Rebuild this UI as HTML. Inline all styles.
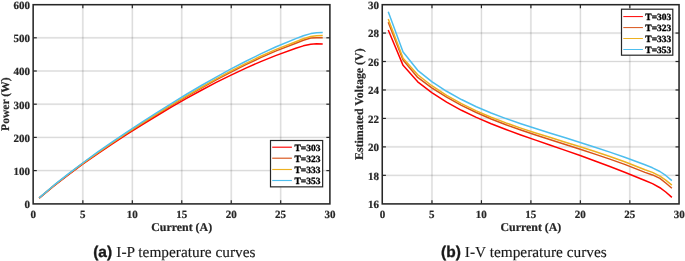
<!DOCTYPE html>
<html lang="en"><head><meta charset="utf-8"><title>Temperature curves</title>
<style>html,body{margin:0;padding:0;background:#fff;overflow:hidden}svg{will-change:transform}text{text-rendering:geometricPrecision}.b{stroke:#262626;stroke-width:.2px;stroke-linejoin:round}.c{stroke:#1a1a1a;stroke-width:.35px;stroke-linejoin:round}.s{stroke:#1a1a1a;stroke-width:.15px}.k{stroke:#000;stroke-width:.32px;stroke-linejoin:round}</style></head>
<body>
<svg width="685" height="261" viewBox="0 0 685 261" style="display:block">
<rect width="685" height="261" fill="#fff"/>
<line x1="82.86" y1="4.6" x2="82.86" y2="203.8" stroke="#000" stroke-opacity="0.05" stroke-width="2.2"/>
<line x1="82.86" y1="4.6" x2="82.86" y2="203.8" stroke="#000" stroke-opacity="0.12" stroke-width="0.9"/>
<line x1="132.32" y1="4.6" x2="132.32" y2="203.8" stroke="#000" stroke-opacity="0.05" stroke-width="2.2"/>
<line x1="132.32" y1="4.6" x2="132.32" y2="203.8" stroke="#000" stroke-opacity="0.12" stroke-width="0.9"/>
<line x1="181.77" y1="4.6" x2="181.77" y2="203.8" stroke="#000" stroke-opacity="0.05" stroke-width="2.2"/>
<line x1="181.77" y1="4.6" x2="181.77" y2="203.8" stroke="#000" stroke-opacity="0.12" stroke-width="0.9"/>
<line x1="231.23" y1="4.6" x2="231.23" y2="203.8" stroke="#000" stroke-opacity="0.05" stroke-width="2.2"/>
<line x1="231.23" y1="4.6" x2="231.23" y2="203.8" stroke="#000" stroke-opacity="0.12" stroke-width="0.9"/>
<line x1="280.69" y1="4.6" x2="280.69" y2="203.8" stroke="#000" stroke-opacity="0.05" stroke-width="2.2"/>
<line x1="280.69" y1="4.6" x2="280.69" y2="203.8" stroke="#000" stroke-opacity="0.12" stroke-width="0.9"/>
<line x1="33.2" y1="170.60" x2="329.95" y2="170.60" stroke="#000" stroke-opacity="0.05" stroke-width="2.2"/>
<line x1="33.2" y1="170.60" x2="329.95" y2="170.60" stroke="#000" stroke-opacity="0.12" stroke-width="0.9"/>
<line x1="33.2" y1="137.40" x2="329.95" y2="137.40" stroke="#000" stroke-opacity="0.05" stroke-width="2.2"/>
<line x1="33.2" y1="137.40" x2="329.95" y2="137.40" stroke="#000" stroke-opacity="0.12" stroke-width="0.9"/>
<line x1="33.2" y1="104.20" x2="329.95" y2="104.20" stroke="#000" stroke-opacity="0.05" stroke-width="2.2"/>
<line x1="33.2" y1="104.20" x2="329.95" y2="104.20" stroke="#000" stroke-opacity="0.12" stroke-width="0.9"/>
<line x1="33.2" y1="71.00" x2="329.95" y2="71.00" stroke="#000" stroke-opacity="0.05" stroke-width="2.2"/>
<line x1="33.2" y1="71.00" x2="329.95" y2="71.00" stroke="#000" stroke-opacity="0.12" stroke-width="0.9"/>
<line x1="33.2" y1="37.80" x2="329.95" y2="37.80" stroke="#000" stroke-opacity="0.05" stroke-width="2.2"/>
<line x1="33.2" y1="37.80" x2="329.95" y2="37.80" stroke="#000" stroke-opacity="0.12" stroke-width="0.9"/>
<polyline points="39.14,198.18 53.97,185.86 68.61,174.60 82.66,164.27 97.50,153.85 112.33,143.85 127.17,134.19 142.01,124.83 156.85,115.74 171.68,106.93 186.52,98.43 201.36,90.26 216.20,82.45 231.03,75.06 245.87,68.11 260.71,61.62 275.55,55.62 295.82,48.31 303.34,45.85 310.76,44.22 316.60,43.72 322.73,43.94" fill="none" stroke="#ff0000" stroke-width="1.5" stroke-linejoin="round"/>
<polyline points="39.14,198.07 53.97,185.60 68.61,174.23 82.66,163.71 97.50,153.10 112.33,142.93 127.17,133.11 142.01,123.59 156.85,114.34 171.68,105.34 186.52,96.60 201.36,88.12 216.20,79.95 231.03,72.11 245.87,64.66 260.71,57.64 275.55,51.10 295.82,43.29 303.34,40.32 310.76,38.07 316.60,37.72 322.73,37.73" fill="none" stroke="#d95319" stroke-width="1.5" stroke-linejoin="round"/>
<polyline points="39.14,198.03 53.97,185.51 68.61,174.00 82.66,163.46 97.50,152.82 112.33,142.61 127.17,132.74 142.01,123.15 156.85,113.81 171.68,104.70 186.52,95.84 201.36,87.23 216.20,78.92 231.03,70.94 245.87,63.36 260.71,56.22 275.55,49.58 295.82,41.70 303.34,38.69 310.76,36.58 316.60,35.82 322.73,35.59" fill="none" stroke="#edb120" stroke-width="1.5" stroke-linejoin="round"/>
<polyline points="39.14,197.93 53.97,185.21 68.61,173.63 82.66,162.98 97.50,152.20 112.33,141.84 127.17,131.81 142.01,122.06 156.85,112.54 171.68,103.27 186.52,94.24 201.36,85.49 216.20,77.04 231.03,68.94 245.87,61.22 260.71,53.91 275.55,47.05 295.82,38.61 303.34,35.79 310.76,33.60 316.60,32.68 322.73,32.48" fill="none" stroke="#4dbeee" stroke-width="1.5" stroke-linejoin="round"/>
<line x1="82.86" y1="203.8" x2="82.86" y2="200.20000000000002" stroke="#262626" stroke-width="1.2"/>
<line x1="82.86" y1="4.6" x2="82.86" y2="8.2" stroke="#262626" stroke-width="1.2"/>
<line x1="132.32" y1="203.8" x2="132.32" y2="200.20000000000002" stroke="#262626" stroke-width="1.2"/>
<line x1="132.32" y1="4.6" x2="132.32" y2="8.2" stroke="#262626" stroke-width="1.2"/>
<line x1="181.77" y1="203.8" x2="181.77" y2="200.20000000000002" stroke="#262626" stroke-width="1.2"/>
<line x1="181.77" y1="4.6" x2="181.77" y2="8.2" stroke="#262626" stroke-width="1.2"/>
<line x1="231.23" y1="203.8" x2="231.23" y2="200.20000000000002" stroke="#262626" stroke-width="1.2"/>
<line x1="231.23" y1="4.6" x2="231.23" y2="8.2" stroke="#262626" stroke-width="1.2"/>
<line x1="280.69" y1="203.8" x2="280.69" y2="200.20000000000002" stroke="#262626" stroke-width="1.2"/>
<line x1="280.69" y1="4.6" x2="280.69" y2="8.2" stroke="#262626" stroke-width="1.2"/>
<line x1="33.2" y1="170.60" x2="36.800000000000004" y2="170.60" stroke="#262626" stroke-width="1.2"/>
<line x1="329.95" y1="170.60" x2="326.34999999999997" y2="170.60" stroke="#262626" stroke-width="1.2"/>
<line x1="33.2" y1="137.40" x2="36.800000000000004" y2="137.40" stroke="#262626" stroke-width="1.2"/>
<line x1="329.95" y1="137.40" x2="326.34999999999997" y2="137.40" stroke="#262626" stroke-width="1.2"/>
<line x1="33.2" y1="104.20" x2="36.800000000000004" y2="104.20" stroke="#262626" stroke-width="1.2"/>
<line x1="329.95" y1="104.20" x2="326.34999999999997" y2="104.20" stroke="#262626" stroke-width="1.2"/>
<line x1="33.2" y1="71.00" x2="36.800000000000004" y2="71.00" stroke="#262626" stroke-width="1.2"/>
<line x1="329.95" y1="71.00" x2="326.34999999999997" y2="71.00" stroke="#262626" stroke-width="1.2"/>
<line x1="33.2" y1="37.80" x2="36.800000000000004" y2="37.80" stroke="#262626" stroke-width="1.2"/>
<line x1="329.95" y1="37.80" x2="326.34999999999997" y2="37.80" stroke="#262626" stroke-width="1.2"/>
<rect x="33.15" y="4.70" width="296.75" height="199.20" fill="none" stroke="#262626" stroke-width="1.55"/>
<text x="33.30" y="218.0" text-anchor="middle" class="b" font-family="'Liberation Serif', 'Times New Roman', serif" font-weight="bold" font-size="11.0" fill="#262626">0</text>
<text x="82.76" y="218.0" text-anchor="middle" class="b" font-family="'Liberation Serif', 'Times New Roman', serif" font-weight="bold" font-size="11.0" fill="#262626">5</text>
<text x="132.22" y="218.0" text-anchor="middle" class="b" font-family="'Liberation Serif', 'Times New Roman', serif" font-weight="bold" font-size="11.0" fill="#262626">10</text>
<text x="181.67" y="218.0" text-anchor="middle" class="b" font-family="'Liberation Serif', 'Times New Roman', serif" font-weight="bold" font-size="11.0" fill="#262626">15</text>
<text x="231.13" y="218.0" text-anchor="middle" class="b" font-family="'Liberation Serif', 'Times New Roman', serif" font-weight="bold" font-size="11.0" fill="#262626">20</text>
<text x="280.59" y="218.0" text-anchor="middle" class="b" font-family="'Liberation Serif', 'Times New Roman', serif" font-weight="bold" font-size="11.0" fill="#262626">25</text>
<text x="330.05" y="218.0" text-anchor="middle" class="b" font-family="'Liberation Serif', 'Times New Roman', serif" font-weight="bold" font-size="11.0" fill="#262626">30</text>
<text x="29.90" y="208.10" text-anchor="end" class="b" font-family="'Liberation Serif', 'Times New Roman', serif" font-weight="bold" font-size="11.0" fill="#262626">0</text>
<text x="29.90" y="174.90" text-anchor="end" class="b" font-family="'Liberation Serif', 'Times New Roman', serif" font-weight="bold" font-size="11.0" fill="#262626">100</text>
<text x="29.90" y="141.70" text-anchor="end" class="b" font-family="'Liberation Serif', 'Times New Roman', serif" font-weight="bold" font-size="11.0" fill="#262626">200</text>
<text x="29.90" y="108.50" text-anchor="end" class="b" font-family="'Liberation Serif', 'Times New Roman', serif" font-weight="bold" font-size="11.0" fill="#262626">300</text>
<text x="29.90" y="75.30" text-anchor="end" class="b" font-family="'Liberation Serif', 'Times New Roman', serif" font-weight="bold" font-size="11.0" fill="#262626">400</text>
<text x="29.90" y="42.10" text-anchor="end" class="b" font-family="'Liberation Serif', 'Times New Roman', serif" font-weight="bold" font-size="11.0" fill="#262626">500</text>
<text x="29.90" y="8.60" text-anchor="end" class="b" font-family="'Liberation Serif', 'Times New Roman', serif" font-weight="bold" font-size="11.0" fill="#262626">600</text>
<rect x="270.5" y="140.5" width="52.15" height="46.35" fill="#fff" stroke="#262626" stroke-width="1.2"/>
<line x1="272.2" y1="147.2" x2="291.9" y2="147.2" stroke="#ff0000" stroke-width="1.15"/>
<text x="294.45" y="150.70" class="k" font-family="'Liberation Serif', 'Times New Roman', serif" font-weight="bold" font-size="9.5" fill="#000">T=303</text>
<line x1="272.2" y1="158.2" x2="291.9" y2="158.2" stroke="#d95319" stroke-width="1.15"/>
<text x="294.45" y="161.70" class="k" font-family="'Liberation Serif', 'Times New Roman', serif" font-weight="bold" font-size="9.5" fill="#000">T=323</text>
<line x1="272.2" y1="169.5" x2="291.9" y2="169.5" stroke="#edb120" stroke-width="1.15"/>
<text x="294.45" y="173.00" class="k" font-family="'Liberation Serif', 'Times New Roman', serif" font-weight="bold" font-size="9.5" fill="#000">T=333</text>
<line x1="272.2" y1="180.5" x2="291.9" y2="180.5" stroke="#4dbeee" stroke-width="1.15"/>
<text x="294.45" y="184.00" class="k" font-family="'Liberation Serif', 'Times New Roman', serif" font-weight="bold" font-size="9.5" fill="#000">T=353</text>
<line x1="431.97" y1="4.6" x2="431.97" y2="203.8" stroke="#000" stroke-opacity="0.05" stroke-width="2.2"/>
<line x1="431.97" y1="4.6" x2="431.97" y2="203.8" stroke="#000" stroke-opacity="0.12" stroke-width="0.9"/>
<line x1="481.43" y1="4.6" x2="481.43" y2="203.8" stroke="#000" stroke-opacity="0.05" stroke-width="2.2"/>
<line x1="481.43" y1="4.6" x2="481.43" y2="203.8" stroke="#000" stroke-opacity="0.12" stroke-width="0.9"/>
<line x1="530.90" y1="4.6" x2="530.90" y2="203.8" stroke="#000" stroke-opacity="0.05" stroke-width="2.2"/>
<line x1="530.90" y1="4.6" x2="530.90" y2="203.8" stroke="#000" stroke-opacity="0.12" stroke-width="0.9"/>
<line x1="580.37" y1="4.6" x2="580.37" y2="203.8" stroke="#000" stroke-opacity="0.05" stroke-width="2.2"/>
<line x1="580.37" y1="4.6" x2="580.37" y2="203.8" stroke="#000" stroke-opacity="0.12" stroke-width="0.9"/>
<line x1="629.83" y1="4.6" x2="629.83" y2="203.8" stroke="#000" stroke-opacity="0.05" stroke-width="2.2"/>
<line x1="629.83" y1="4.6" x2="629.83" y2="203.8" stroke="#000" stroke-opacity="0.12" stroke-width="0.9"/>
<line x1="382.3" y1="175.34" x2="679.1" y2="175.34" stroke="#000" stroke-opacity="0.05" stroke-width="2.2"/>
<line x1="382.3" y1="175.34" x2="679.1" y2="175.34" stroke="#000" stroke-opacity="0.12" stroke-width="0.9"/>
<line x1="382.3" y1="146.89" x2="679.1" y2="146.89" stroke="#000" stroke-opacity="0.05" stroke-width="2.2"/>
<line x1="382.3" y1="146.89" x2="679.1" y2="146.89" stroke="#000" stroke-opacity="0.12" stroke-width="0.9"/>
<line x1="382.3" y1="118.43" x2="679.1" y2="118.43" stroke="#000" stroke-opacity="0.05" stroke-width="2.2"/>
<line x1="382.3" y1="118.43" x2="679.1" y2="118.43" stroke="#000" stroke-opacity="0.12" stroke-width="0.9"/>
<line x1="382.3" y1="89.97" x2="679.1" y2="89.97" stroke="#000" stroke-opacity="0.05" stroke-width="2.2"/>
<line x1="382.3" y1="89.97" x2="679.1" y2="89.97" stroke="#000" stroke-opacity="0.12" stroke-width="0.9"/>
<line x1="382.3" y1="61.51" x2="679.1" y2="61.51" stroke="#000" stroke-opacity="0.05" stroke-width="2.2"/>
<line x1="382.3" y1="61.51" x2="679.1" y2="61.51" stroke="#000" stroke-opacity="0.12" stroke-width="0.9"/>
<line x1="382.3" y1="33.06" x2="679.1" y2="33.06" stroke="#000" stroke-opacity="0.05" stroke-width="2.2"/>
<line x1="382.3" y1="33.06" x2="679.1" y2="33.06" stroke="#000" stroke-opacity="0.12" stroke-width="0.9"/>
<polyline points="388.24,29.93 403.08,65.36 417.72,81.86 431.77,92.60 446.61,102.11 461.45,110.29 476.29,117.42 491.13,123.76 505.97,129.53 520.81,134.93 535.65,140.11 550.49,145.21 565.33,150.35 580.17,155.58 595.01,160.97 609.85,166.53 624.69,172.24 644.97,180.47 652.49,183.60 659.91,187.72 665.74,191.99 671.88,197.40" fill="none" stroke="#ff0000" stroke-width="1.5" stroke-linejoin="round"/>
<polyline points="388.24,22.24 403.08,60.09 417.72,77.45 431.77,87.84 446.61,97.18 461.45,105.35 476.29,112.54 491.13,118.95 505.97,124.74 520.81,130.05 535.65,135.04 550.49,139.83 565.33,144.54 580.17,149.27 595.01,154.10 609.85,159.10 624.69,164.35 644.97,172.35 652.49,174.92 659.91,178.33 665.74,183.03 671.88,188.29" fill="none" stroke="#d95319" stroke-width="1.5" stroke-linejoin="round"/>
<polyline points="388.24,18.97 403.08,58.24 417.72,74.75 431.77,85.72 446.61,95.34 461.45,103.65 476.29,110.88 491.13,117.24 505.97,122.92 520.81,128.10 535.65,132.94 550.49,137.58 565.33,142.16 580.17,146.77 595.01,151.51 609.85,156.46 624.69,161.68 644.97,169.79 652.49,172.35 659.91,176.05 665.74,180.18 671.88,185.16" fill="none" stroke="#edb120" stroke-width="1.5" stroke-linejoin="round"/>
<polyline points="388.24,11.86 403.08,51.98 417.72,70.34 431.77,81.58 446.61,91.26 461.45,99.55 476.29,106.70 491.13,112.98 505.97,118.58 520.81,123.71 535.65,128.53 550.49,133.19 565.33,137.81 580.17,142.47 595.01,147.24 609.85,152.16 624.69,157.25 644.97,164.81 652.49,167.80 659.91,171.50 665.74,175.49 671.88,180.61" fill="none" stroke="#4dbeee" stroke-width="1.5" stroke-linejoin="round"/>
<line x1="431.97" y1="203.8" x2="431.97" y2="200.20000000000002" stroke="#262626" stroke-width="1.2"/>
<line x1="431.97" y1="4.6" x2="431.97" y2="8.2" stroke="#262626" stroke-width="1.2"/>
<line x1="481.43" y1="203.8" x2="481.43" y2="200.20000000000002" stroke="#262626" stroke-width="1.2"/>
<line x1="481.43" y1="4.6" x2="481.43" y2="8.2" stroke="#262626" stroke-width="1.2"/>
<line x1="530.90" y1="203.8" x2="530.90" y2="200.20000000000002" stroke="#262626" stroke-width="1.2"/>
<line x1="530.90" y1="4.6" x2="530.90" y2="8.2" stroke="#262626" stroke-width="1.2"/>
<line x1="580.37" y1="203.8" x2="580.37" y2="200.20000000000002" stroke="#262626" stroke-width="1.2"/>
<line x1="580.37" y1="4.6" x2="580.37" y2="8.2" stroke="#262626" stroke-width="1.2"/>
<line x1="629.83" y1="203.8" x2="629.83" y2="200.20000000000002" stroke="#262626" stroke-width="1.2"/>
<line x1="629.83" y1="4.6" x2="629.83" y2="8.2" stroke="#262626" stroke-width="1.2"/>
<line x1="382.3" y1="175.34" x2="385.90000000000003" y2="175.34" stroke="#262626" stroke-width="1.2"/>
<line x1="679.1" y1="175.34" x2="675.5" y2="175.34" stroke="#262626" stroke-width="1.2"/>
<line x1="382.3" y1="146.89" x2="385.90000000000003" y2="146.89" stroke="#262626" stroke-width="1.2"/>
<line x1="679.1" y1="146.89" x2="675.5" y2="146.89" stroke="#262626" stroke-width="1.2"/>
<line x1="382.3" y1="118.43" x2="385.90000000000003" y2="118.43" stroke="#262626" stroke-width="1.2"/>
<line x1="679.1" y1="118.43" x2="675.5" y2="118.43" stroke="#262626" stroke-width="1.2"/>
<line x1="382.3" y1="89.97" x2="385.90000000000003" y2="89.97" stroke="#262626" stroke-width="1.2"/>
<line x1="679.1" y1="89.97" x2="675.5" y2="89.97" stroke="#262626" stroke-width="1.2"/>
<line x1="382.3" y1="61.51" x2="385.90000000000003" y2="61.51" stroke="#262626" stroke-width="1.2"/>
<line x1="679.1" y1="61.51" x2="675.5" y2="61.51" stroke="#262626" stroke-width="1.2"/>
<line x1="382.3" y1="33.06" x2="385.90000000000003" y2="33.06" stroke="#262626" stroke-width="1.2"/>
<line x1="679.1" y1="33.06" x2="675.5" y2="33.06" stroke="#262626" stroke-width="1.2"/>
<rect x="382.25" y="4.70" width="296.80" height="199.20" fill="none" stroke="#262626" stroke-width="1.55"/>
<text x="382.40" y="218.0" text-anchor="middle" class="b" font-family="'Liberation Serif', 'Times New Roman', serif" font-weight="bold" font-size="11.0" fill="#262626">0</text>
<text x="431.87" y="218.0" text-anchor="middle" class="b" font-family="'Liberation Serif', 'Times New Roman', serif" font-weight="bold" font-size="11.0" fill="#262626">5</text>
<text x="481.33" y="218.0" text-anchor="middle" class="b" font-family="'Liberation Serif', 'Times New Roman', serif" font-weight="bold" font-size="11.0" fill="#262626">10</text>
<text x="530.80" y="218.0" text-anchor="middle" class="b" font-family="'Liberation Serif', 'Times New Roman', serif" font-weight="bold" font-size="11.0" fill="#262626">15</text>
<text x="580.27" y="218.0" text-anchor="middle" class="b" font-family="'Liberation Serif', 'Times New Roman', serif" font-weight="bold" font-size="11.0" fill="#262626">20</text>
<text x="629.73" y="218.0" text-anchor="middle" class="b" font-family="'Liberation Serif', 'Times New Roman', serif" font-weight="bold" font-size="11.0" fill="#262626">25</text>
<text x="679.20" y="218.0" text-anchor="middle" class="b" font-family="'Liberation Serif', 'Times New Roman', serif" font-weight="bold" font-size="11.0" fill="#262626">30</text>
<text x="379.00" y="208.10" text-anchor="end" class="b" font-family="'Liberation Serif', 'Times New Roman', serif" font-weight="bold" font-size="11.0" fill="#262626">16</text>
<text x="379.00" y="179.64" text-anchor="end" class="b" font-family="'Liberation Serif', 'Times New Roman', serif" font-weight="bold" font-size="11.0" fill="#262626">18</text>
<text x="379.00" y="151.19" text-anchor="end" class="b" font-family="'Liberation Serif', 'Times New Roman', serif" font-weight="bold" font-size="11.0" fill="#262626">20</text>
<text x="379.00" y="122.73" text-anchor="end" class="b" font-family="'Liberation Serif', 'Times New Roman', serif" font-weight="bold" font-size="11.0" fill="#262626">22</text>
<text x="379.00" y="94.27" text-anchor="end" class="b" font-family="'Liberation Serif', 'Times New Roman', serif" font-weight="bold" font-size="11.0" fill="#262626">24</text>
<text x="379.00" y="65.81" text-anchor="end" class="b" font-family="'Liberation Serif', 'Times New Roman', serif" font-weight="bold" font-size="11.0" fill="#262626">26</text>
<text x="379.00" y="37.36" text-anchor="end" class="b" font-family="'Liberation Serif', 'Times New Roman', serif" font-weight="bold" font-size="11.0" fill="#262626">28</text>
<text x="379.00" y="8.90" text-anchor="end" class="b" font-family="'Liberation Serif', 'Times New Roman', serif" font-weight="bold" font-size="11.0" fill="#262626">30</text>
<rect x="621.5" y="9.2" width="51.30" height="46.00" fill="#fff" stroke="#262626" stroke-width="1.2"/>
<line x1="623.3" y1="16.6" x2="642.9" y2="16.6" stroke="#ff0000" stroke-width="1.0"/>
<text x="645.35" y="20.10" class="k" font-family="'Liberation Serif', 'Times New Roman', serif" font-weight="bold" font-size="9.5" fill="#000">T=303</text>
<line x1="623.3" y1="27.6" x2="642.9" y2="27.6" stroke="#d95319" stroke-width="1.0"/>
<text x="645.35" y="31.10" class="k" font-family="'Liberation Serif', 'Times New Roman', serif" font-weight="bold" font-size="9.5" fill="#000">T=323</text>
<line x1="623.3" y1="38.5" x2="642.9" y2="38.5" stroke="#edb120" stroke-width="1.0"/>
<text x="645.35" y="42.00" class="k" font-family="'Liberation Serif', 'Times New Roman', serif" font-weight="bold" font-size="9.5" fill="#000">T=333</text>
<line x1="623.3" y1="49.5" x2="642.9" y2="49.5" stroke="#4dbeee" stroke-width="1.0"/>
<text x="645.35" y="53.00" class="k" font-family="'Liberation Serif', 'Times New Roman', serif" font-weight="bold" font-size="9.5" fill="#000">T=353</text>
<text x="181.7" y="231.1" text-anchor="middle" class="b" font-family="'Liberation Serif', 'Times New Roman', serif" font-weight="bold" font-size="11.9" fill="#262626">Current (A)</text>
<text x="530.9" y="231.1" text-anchor="middle" class="b" font-family="'Liberation Serif', 'Times New Roman', serif" font-weight="bold" font-size="11.9" fill="#262626">Current (A)</text>
<text transform="translate(9.0,104.1) rotate(-90)" text-anchor="middle" class="b" font-family="'Liberation Serif', 'Times New Roman', serif" font-weight="bold" font-size="11.6" fill="#262626">Power (W)</text>
<text transform="translate(362.9,104.2) rotate(-90)" text-anchor="middle" class="b" font-family="'Liberation Serif', 'Times New Roman', serif" font-weight="bold" font-size="11.9" fill="#262626">Estimated Voltage (V)</text>
<text x="93.2" y="257.2" class="c" font-family="'Liberation Sans', Arial, sans-serif" font-weight="bold" font-size="15.5" fill="#1a1a1a">(a)</text>
<text x="116.3" y="257.2" class="s" font-family="'Liberation Serif', 'Times New Roman', serif" font-size="15.35" fill="#1a1a1a">I-P temperature curves</text>
<text x="441.1" y="257.2" class="c" font-family="'Liberation Sans', Arial, sans-serif" font-weight="bold" font-size="15.5" fill="#1a1a1a">(b)</text>
<text x="464.8" y="257.2" class="s" font-family="'Liberation Serif', 'Times New Roman', serif" font-size="15.35" fill="#1a1a1a">I-V temperature curves</text>
</svg>
</body></html>
